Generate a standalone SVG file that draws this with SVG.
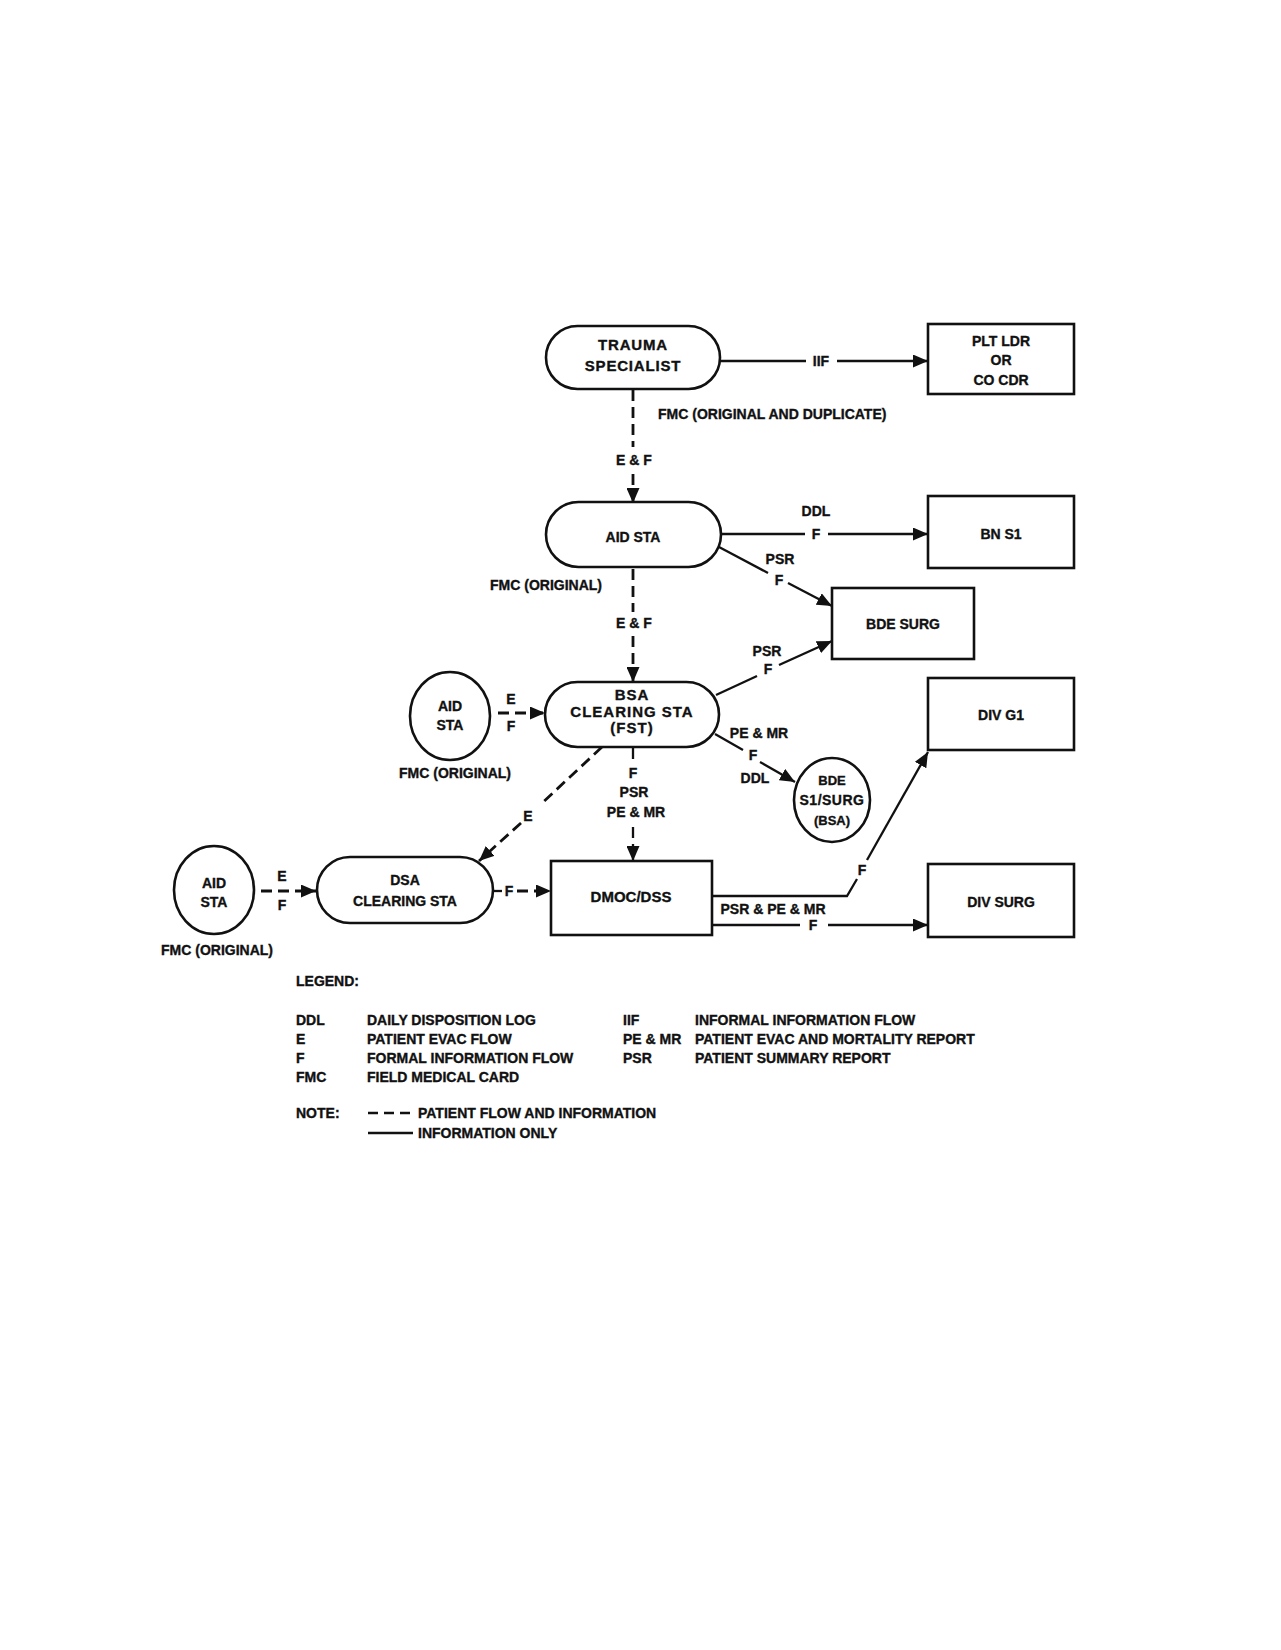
<svg xmlns="http://www.w3.org/2000/svg" width="1281" height="1650" viewBox="0 0 1281 1650">
<style>
text{font-family:"Liberation Sans",Arial,sans-serif;font-weight:bold;font-size:14px;fill:#111;stroke:#111;stroke-width:0.35px}
.c{text-anchor:middle}
.node{fill:#fff;stroke:#111;stroke-width:2.6}
.ln{fill:none;stroke:#111;stroke-width:2.3}
.ds{fill:none;stroke:#111;stroke-width:2.8;stroke-dasharray:11 6}
.wide{font-size:15px;letter-spacing:1px}
</style>
<defs>
<marker id="ah" markerUnits="userSpaceOnUse" markerWidth="15" markerHeight="13" refX="15" refY="6.5" orient="auto">
<path d="M0,0 L15,6.5 L0,13 z" fill="#111"/>
</marker>
</defs>
<rect width="1281" height="1650" fill="#fff"/>

<g id="connectors">
<path class="ln" d="M720,361 H806 M837,361 H928" marker-end="url(#ah)"/>
<text class="c" x="821" y="366">IIF</text>
<path class="ds" d="M633,390 V447" />
<path class="ds" d="M633,474 V503" marker-end="url(#ah)"/>
<text class="c" x="634" y="465">E &amp; F</text>
<text x="658" y="419">FMC (ORIGINAL AND DUPLICATE)</text>

<path class="ln" d="M720,534 H805 M828,534 H928" marker-end="url(#ah)"/>
<text class="c" x="816" y="516">DDL</text>
<text class="c" x="816" y="539">F</text>
<path class="ln" d="M719,547 L768,573"/>
<path class="ln" d="M788,583 L832,606" marker-end="url(#ah)"/>
<text class="c" x="780" y="564">PSR</text>
<text class="c" x="779" y="585">F</text>

<path class="ds" d="M633,569 V612"/>
<path class="ds" d="M633,636 V682" marker-end="url(#ah)"/>
<text class="c" x="634" y="628">E &amp; F</text>
<text x="490" y="590">FMC (ORIGINAL)</text>

<path class="ln" d="M716,695 L757,676"/>
<path class="ln" d="M779,665 L832,641" marker-end="url(#ah)"/>
<text class="c" x="767" y="656">PSR</text>
<text class="c" x="768" y="674">F</text>

<path class="ds" d="M498,713 H545" marker-end="url(#ah)"/>
<text class="c" x="511" y="704">E</text>
<text class="c" x="511" y="731">F</text>
<text x="399" y="778">FMC (ORIGINAL)</text>

<path class="ln" d="M715,734 L743,750"/>
<path class="ln" d="M760,762 L795,782" marker-end="url(#ah)"/>
<text class="c" x="759" y="738">PE &amp; MR</text>
<text class="c" x="753" y="760">F</text>
<text class="c" x="755" y="783">DDL</text>

<path class="ln" d="M633,748 V759"/>
<path class="ln" d="M633,827 V838"/>
<path class="ln" d="M633,844 V861" marker-end="url(#ah)"/>
<text class="c" x="633" y="778">F</text>
<text class="c" x="634" y="797">PSR</text>
<text class="c" x="636" y="817">PE &amp; MR</text>

<path class="ds" d="M602,747 L540,805"/>
<path class="ds" d="M521,823 L479,861" marker-end="url(#ah)"/>
<text class="c" x="528" y="821">E</text>

<path class="ds" d="M261,891 H316" marker-end="url(#ah)"/>
<text class="c" x="282" y="881">E</text>
<text class="c" x="282" y="910">F</text>
<text x="161" y="955">FMC (ORIGINAL)</text>

<path class="ln" d="M493,891 H502"/>
<path class="ds" d="M517,891 H551" marker-end="url(#ah)"/>
<text class="c" x="509" y="896">F</text>

<path class="ln" d="M712,896 H847 L857,879"/>
<path class="ln" d="M867,860 L928,752" marker-end="url(#ah)"/>
<text class="c" x="862" y="875">F</text>

<path class="ln" d="M712,925 H800 M828,925 H928" marker-end="url(#ah)"/>
<text class="c" x="773" y="914">PSR &amp; PE &amp; MR</text>
<text class="c" x="813" y="930">F</text>
</g>

<g id="trauma-specialist">
<rect class="node" x="546" y="326" width="174" height="63" rx="31.5"/>
<text class="c" x="633" y="350" style="font-size:15px;letter-spacing:0.8px">TRAUMA</text>
<text class="c" x="633" y="371" style="font-size:15px;letter-spacing:0.8px">SPECIALIST</text>
</g>
<g id="plt-ldr">
<rect class="node" x="928" y="324" width="146" height="70"/>
<text class="c" x="1001" y="346">PLT LDR</text>
<text class="c" x="1001" y="365">OR</text>
<text class="c" x="1001" y="385">CO CDR</text>
</g>
<g id="aid-sta-1">
<rect class="node" x="546" y="502" width="175" height="65" rx="32.5"/>
<text class="c" x="633" y="542">AID STA</text>
</g>
<g id="bn-s1">
<rect class="node" x="928" y="496" width="146" height="72"/>
<text class="c" x="1001" y="539">BN S1</text>
</g>
<g id="bde-surg">
<rect class="node" x="832" y="588" width="142" height="71"/>
<text class="c" x="903" y="629">BDE SURG</text>
</g>
<g id="bsa-clearing-sta">
<rect class="node" x="545" y="682" width="174" height="65" rx="32.5"/>
<text class="c wide" x="632" y="700">BSA</text>
<text class="c wide" x="632" y="717">CLEARING STA</text>
<text class="c wide" x="632" y="733">(FST)</text>
</g>
<g id="aid-sta-2">
<ellipse class="node" cx="450" cy="716" rx="40" ry="44"/>
<text class="c" x="450" y="711">AID</text>
<text class="c" x="450" y="730">STA</text>
</g>
<g id="div-g1">
<rect class="node" x="928" y="678" width="146" height="72"/>
<text class="c" x="1001" y="720">DIV G1</text>
</g>
<g id="bde-s1-surg">
<ellipse class="node" cx="832" cy="800" rx="38" ry="42"/>
<text class="c" x="832" y="785" style="font-size:13px">BDE</text>
<text class="c" x="832" y="805" style="letter-spacing:0.5px">S1/SURG</text>
<text class="c" x="832" y="825" style="font-size:13px">(BSA)</text>
</g>
<g id="aid-sta-3">
<ellipse class="node" cx="214" cy="890" rx="40" ry="44"/>
<text class="c" x="214" y="888">AID</text>
<text class="c" x="214" y="907">STA</text>
</g>
<g id="dsa-clearing-sta">
<rect class="node" x="317" y="857" width="176" height="66" rx="33"/>
<text class="c" x="405" y="885">DSA</text>
<text class="c" x="405" y="906">CLEARING STA</text>
</g>
<g id="dmoc-dss">
<rect class="node" x="551" y="861" width="161" height="74"/>
<text class="c" x="631" y="902" style="font-size:15px">DMOC/DSS</text>
</g>
<g id="div-surg">
<rect class="node" x="928" y="864" width="146" height="73"/>
<text class="c" x="1001" y="907">DIV SURG</text>
</g>

<g id="legend">
<text x="296" y="986">LEGEND:</text>
<text x="296" y="1025">DDL</text>
<text x="367" y="1025">DAILY DISPOSITION LOG</text>
<text x="296" y="1044">E</text>
<text x="367" y="1044">PATIENT EVAC FLOW</text>
<text x="296" y="1063">F</text>
<text x="367" y="1063">FORMAL INFORMATION FLOW</text>
<text x="296" y="1082">FMC</text>
<text x="367" y="1082">FIELD MEDICAL CARD</text>
<text x="623" y="1025">IIF</text>
<text x="695" y="1025">INFORMAL INFORMATION FLOW</text>
<text x="623" y="1044">PE &amp; MR</text>
<text x="695" y="1044">PATIENT EVAC AND MORTALITY REPORT</text>
<text x="623" y="1063">PSR</text>
<text x="695" y="1063">PATIENT SUMMARY REPORT</text>
<text x="296" y="1118">NOTE:</text>
<path class="ln" d="M368,1113 H413" style="stroke-dasharray:10 6"/>
<text x="418" y="1118">PATIENT FLOW AND INFORMATION</text>
<path class="ln" d="M368,1133 H413"/>
<text x="418" y="1138">INFORMATION ONLY</text>
</g>
</svg>
